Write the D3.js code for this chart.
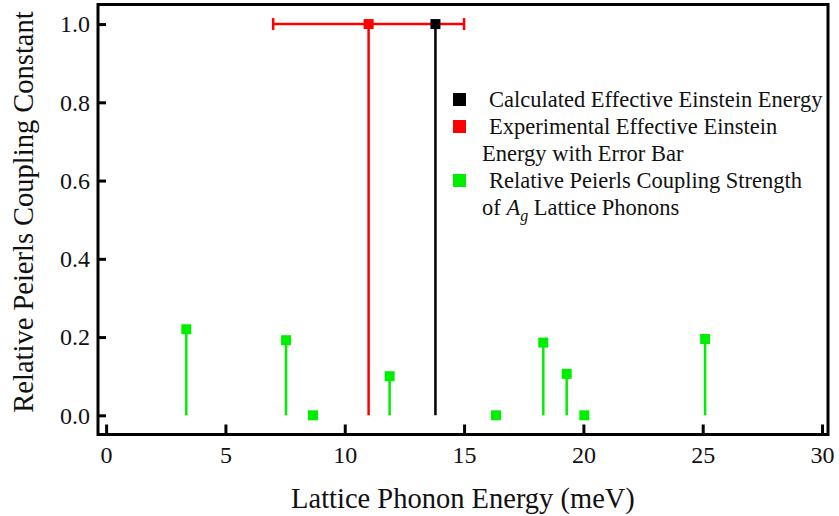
<!DOCTYPE html>
<html>
<head>
<meta charset="utf-8">
<script src="https://cdn.jsdelivr.net/npm/d3@7"></script>
<style>
body { margin: 0; background: #fff; }
svg text { font-family: "Liberation Serif", "DejaVu Serif", serif; fill: #111; }
</style>
</head>
<body>
<svg id="chart" width="839" height="516"></svg>
<script>
// green stems: Ag lattice phonons
var phononEnergy = [3.36, 7.54, 8.67, 11.88, 16.34, 18.32, 19.3, 20.04, 25.1];
var phononCoupling = [0.22, 0.192, 0.0, 0.10, 0.0, 0.186, 0.106, 0.0, 0.195];

var calcEnergy = [13.8];
var calcValue = [1.0];
var expEnergy = [11.0];
var expValue = [1.0];
var expErrLow = [7.0];
var expErrHigh = [15.0];

var xTicks = [0, 5, 10, 15, 20, 25, 30];
var yTicks = [0, 0.2, 0.4, 0.6, 0.8, 1.0];

var legendItems = ["Calculated Effective Einstein Energy", "Experimental Effective Einstein", "Relative Peierls Coupling Strength"];
var legendColors = ["#000000", "#ff0000", "#00ee00"];

var svg = d3.select("#chart");
var mLeft = 98, mRight = 828, mTop = 4.5, mBottom = 434.5;

var x = d3.scaleLinear().domain([-0.34, 30.25]).range([mLeft, mRight]);
var y = d3.scaleLinear().domain([-0.049, 1.05]).range([mBottom, mTop]);

var green = "#00ee00";

// x axis ticks + labels
var xAxis = d3.axisBottom(x).tickValues(xTicks).tickSize(-10).tickFormat(d3.format("d"));
var gx = svg.append("g").attr("transform", "translate(0," + mBottom + ")").call(xAxis);
gx.select(".domain").remove();
gx.selectAll(".tick line").attr("stroke", "#000").attr("stroke-width", 3);
gx.selectAll(".tick text").style("font-size", "24px").attr("dy", null).attr("y", 28);

var yAxis = d3.axisLeft(y).tickValues(yTicks).tickSize(-8).tickFormat(d3.format(".1f"));
var gy = svg.append("g").attr("transform", "translate(" + mLeft + ",0)").call(yAxis);
gy.select(".domain").remove();
gy.selectAll(".tick line").attr("stroke", "#000").attr("stroke-width", 3);
gy.selectAll(".tick text").style("font-size", "24px").attr("x", -8);

// frame
svg.append("rect").attr("x", mLeft).attr("y", mTop).attr("width", mRight - mLeft).attr("height", mBottom - mTop)
  .attr("fill", "none").attr("stroke", "#000").attr("stroke-width", 3);

// stems
svg.append("g").selectAll("line").data(phononEnergy).enter().append("line")
  .attr("x1", function(d) { return x(d); })
  .attr("x2", function(d) { return x(d); })
  .attr("y1", y(0))
  .attr("y2", function(d, i) { return y(phononCoupling[i]); })
  .attr("stroke", green).attr("stroke-width", 2.5);

svg.append("line").attr("x1", x(expEnergy[0])).attr("x2", x(expEnergy[0]))
  .attr("y1", y(0)).attr("y2", y(expValue[0])).attr("stroke", "#ff0000").attr("stroke-width", 2.5);
svg.append("line").attr("x1", x(calcEnergy[0])).attr("x2", x(calcEnergy[0]))
  .attr("y1", y(0)).attr("y2", y(calcValue[0])).attr("stroke", "#000").attr("stroke-width", 2.5);

// error bar
var ey = y(expValue[0]);
svg.append("line").attr("x1", x(expErrLow[0])).attr("x2", x(expErrHigh[0]))
  .attr("y1", ey).attr("y2", ey).attr("stroke", "#ff0000").attr("stroke-width", 2.5);
[expErrLow[0], expErrHigh[0]].forEach(function(v) {
  svg.append("line").attr("x1", x(v)).attr("x2", x(v)).attr("y1", ey - 6).attr("y2", ey + 6)
    .attr("stroke", "#ff0000").attr("stroke-width", 2.5);
});

// markers
var s = 10;
svg.append("g").selectAll("rect").data(phononEnergy).enter().append("rect")
  .attr("x", function(d) { return x(d) - s / 2; })
  .attr("y", function(d, i) { return y(phononCoupling[i]) - s / 2; })
  .attr("width", s).attr("height", s).attr("fill", green);
svg.append("rect").attr("x", x(expEnergy[0]) - s / 2).attr("y", y(expValue[0]) - s / 2)
  .attr("width", s).attr("height", s).attr("fill", "#ff0000");
svg.append("rect").attr("x", x(calcEnergy[0]) - s / 2).attr("y", y(calcValue[0]) - s / 2)
  .attr("width", s).attr("height", s).attr("fill", "#000");

// legend
var leg = svg.append("g").style("font-size", "22.5px");
var rowY = [107, 134, 188];
legendItems.forEach(function(t, i) {
  leg.append("rect").attr("x", 453).attr("y", rowY[i] - 14).attr("width", 13).attr("height", 13).attr("fill", legendColors[i]);
  leg.append("text").attr("x", 489).attr("y", rowY[i]).text(t);
});
leg.append("text").attr("x", 482).attr("y", 161).text("Energy with Error Bar");
var last = leg.append("text").attr("x", 482).attr("y", 215);
last.append("tspan").text("of  ");
last.append("tspan").style("font-style", "italic").text("A");
last.append("tspan").attr("dy", 6).style("font-size", "16px").style("font-style", "italic").text("g");
last.append("tspan").attr("dy", -6).text(" Lattice Phonons");

// axis titles
svg.append("text").attr("x", (mLeft + mRight) / 2).attr("y", 508).attr("text-anchor", "middle")
  .style("font-size", "28.5px").text("Lattice Phonon Energy (meV)");
svg.append("text").attr("transform", "translate(33,212) rotate(-90)").attr("text-anchor", "middle")
  .style("font-size", "28.5px").text("Relative Peierls Coupling Constant");
</script>
</body>
</html>
